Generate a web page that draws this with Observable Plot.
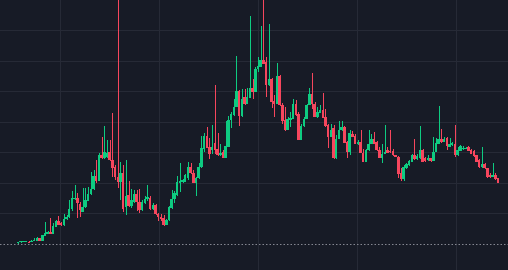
<!DOCTYPE html>
<html><head><meta charset="utf-8">
<script src="https://cdn.jsdelivr.net/npm/d3@7"></script>
<script src="https://cdn.jsdelivr.net/npm/@observablehq/plot@0.6"></script>
<style>html,body{margin:0;padding:0;background:#171b26;overflow:hidden}</style>
</head><body><div id="chart"></div>
<script>
const open=[0.46,0.56,0.62,0.65,0.78,0.78,1.14,1.14,1.80,1.05,
2.78,3.43,4.08,3.43,5.72,7.52,7.03,6.21,8.07,8.82,
11.44,14.87,15.13,13.24,10.62,12.09,14.22,16.34,17.88,22.22,
20.69,29.08,28.01,28.43,29.97,27.45,25.07,21.9,20.36,23.2,
12.09,16.01,12.42,13.89,16.34,13.73,11.11,13.56,14.71,15.2,
11.44,12.75,9.8,8.92,8.5,6.37,7.84,11.76,14.71,16.01,
19.93,20.16,20.43,21.57,25.26,23.2,20.03,21.47,25.16,31.05,
35.29,31.7,30.72,33.1,31.05,28.99,30.07,28.2,31.8,40.52,
42.16,44.87,50.0,41.83,48.04,45.98,47.94,51.21,49.77,57.19,
57.94,60.36,59.48,51.96,53.92,46.73,45.85,54.9,45.59,40.52,
37.48,40.52,41.08,45.75,42.48,34.22,38.56,41.08,45.65,49.25,
45.92,41.6,42.91,43.79,41.6,38.89,35.07,37.91,28.1,34.54,
37.26,38.24,33.33,30.16,36.18,35.46,32.91,33.43,29.84,26.9,
30.72,32.91,34.54,33.33,30.72,28.2,29.64,30.72,30.49,30.39,
29.08,28.53,23.2,21.14,24.74,25.82,26.9,29.08,27.78,28.01,
30.95,28.01,27.45,28.01,27.22,30.16,32.91,34.54,33.43,34.64,
31.8,32.35,32.91,29.08,30.49,31.14,31.14,31.8,30.72,30.39,
28.99,27.45,25.07,26.14,24.74,22.55,21.99,22.55,21.47];
const high=[0.65,0.72,0.78,0.88,0.92,1.31,1.96,2.45,1.96,3.10,
7.19,4.25,8.59,6.96,7.84,9.15,7.35,9.80,9.48,14.38,
17.32,19.28,16.57,13.73,18.2,18.3,18.73,23.53,24.18,27.45,
29.9,35.07,38.56,34.22,34.22,42.97,25.82,81.4,26.9,25.82,
27.45,20.59,17.88,17.65,17.65,17.97,14.54,15.69,19.28,15.69,
13.4,13.07,10.13,9.8,9.48,8.17,12.42,17.81,17.32,22.22,
26.37,21.24,22.88,26.7,26.37,24.18,21.9,26.37,35.39,36.5,
38.33,34.74,38.89,51.96,36.5,32.68,30.72,40.2,41.93,43.14,
47.61,61.44,50.56,50.88,50.88,50.98,74.84,53.92,57.94,61.11,
71.24,81.7,61.11,71.9,54.25,48.69,59.25,55.23,46.08,44.87,
41.5,43.24,47.61,47.06,43.24,39.44,41.5,45.98,51.08,55.98,
46.5,44.87,45.42,49.58,44.12,39.22,39.22,38.89,35.62,40.2,
40.2,38.56,33.66,37.26,36.93,35.95,34.22,37.26,31.27,31.27,
37.26,35.95,36.7,33.66,31.8,32.68,38.89,31.8,37.26,31.27,
29.25,28.76,24.74,25.82,26.47,27.45,29.64,34.54,29.41,38.56,
31.27,28.43,28.99,28.27,35.07,34.87,45.1,37.81,35.07,34.97,
34.87,33.33,38.89,31.8,32.35,32.03,31.86,32.03,31.05,30.72,
29.08,27.78,31.8,26.47,24.84,23.3,26.57,23.1,21.57];
const low=[0,0.46,0.49,0.56,0.59,0.72,0.98,0.98,0.92,0.92,
2.61,3.27,3.27,3.27,5.56,6.21,6.05,6.05,7.84,8.66,
10.78,14.38,8.66,8.82,10.46,11.76,14.05,16.18,17.65,19.84,
20.59,27.78,27.78,28.1,27.29,21.99,20.92,18.2,14.38,10.56,
9.48,12.09,11.76,13.4,10.78,10.13,10.78,13.07,14.05,11.11,
11.11,9.48,7.52,7.52,6.05,6.21,7.52,11.44,13.5,15.69,
17.09,19.93,20.26,20.92,22.88,19.93,15.69,21.24,24.84,29.97,
31.37,27.78,29.41,29.64,28.76,28.76,28.1,28.1,31.7,37.91,
41.83,44.77,38.56,41.5,45.42,45.75,47.71,47.39,49.67,56.31,
57.84,58.82,48.14,51.63,44.67,41.6,45.75,45.1,39.44,36.93,
37.26,38.33,40.85,41.83,33.99,33.99,38.24,40.85,45.42,44.35,
41.5,41.34,42.81,41.18,38.24,31.6,34.97,27.68,27.78,34.31,
36.93,33.01,28.2,29.08,34.97,32.68,32.35,29.74,26.8,26.8,
30.56,32.68,32.68,30.39,28.1,26.57,29.41,29.74,29.9,28.92,
28.43,21.47,20.69,20.69,24.51,25.49,26.8,27.45,27.45,27.78,
26.8,26.8,27.12,26.96,27.12,30.07,32.68,33.17,33.33,30.95,
31.7,32.03,28.53,28.76,30.39,30.88,31.05,30.39,29.41,28.43,
26.8,24.84,24.84,24.51,21.57,21.57,21.9,20.92,19.93];
const close=[0.56,0.62,0.65,0.78,0.72,1.14,1.47,2.12,1.05,2.88,
3.59,3.92,3.37,5.88,7.68,6.37,6.21,8.17,8.92,11.6,
15.03,15.2,13.3,11.11,12.19,14.38,16.34,17.88,22.22,20.69,
29.08,28.1,30.07,29.9,27.45,24.74,21.8,20.36,23.3,11.6,
15.69,12.42,14.38,16.34,13.73,11.11,13.73,14.87,15.36,11.44,
12.91,9.8,8.82,8.07,6.37,7.84,12.09,14.87,16.67,20.26,
20.75,20.82,22.55,25.26,23.1,20.03,21.57,25.16,31.54,35.29,
31.47,29.41,31.7,30.72,29.08,29.84,28.2,32.03,40.52,42.65,
44.87,50.0,41.83,47.61,45.75,48.14,51.21,49.77,57.42,58.17,
60.36,59.05,51.96,53.92,46.5,45.85,54.9,45.42,40.29,37.48,
41.08,41.41,45.75,42.16,34.22,38.56,41.08,45.65,49.25,45.75,
41.6,43.24,43.79,41.41,38.56,35.07,37.26,28.1,34.54,37.26,
38.24,33.1,30.16,36.27,35.07,32.91,33.43,29.84,26.9,30.72,
32.91,34.54,32.91,30.72,28.2,29.64,30.16,29.84,30.16,29.08,
28.53,22.88,21.14,25.07,26.14,27.22,29.08,27.68,28.76,30.95,
26.9,27.12,28.01,27.22,30.16,33.1,34.54,33.43,34.48,32.03,
32.91,33.01,29.08,30.95,32.03,31.6,31.54,30.49,29.64,28.76,
26.9,25.07,26.14,24.74,21.8,21.8,22.55,21.14,20.03];
const yGridTicks=[10,20,30,40,50,60,70];
const xGridTicks=[15.7,52.4,89.1,125.8,162.5];
const baseline=[0];

const UP="#0ecb81", DOWN="#f6465d";
const data=open.map((o,i)=>({i,open:o,high:high[i],low:low[i],close:close[i],up:close[i]>=o}));
const minBody=0.33;
const chart=Plot.plot({
  width:508,height:270,margin:0,
  style:{background:"#171b26"},
  color:{type:"identity"},
  x:{domain:[-6.67,181.68],axis:null},
  y:{domain:[-8.52,79.92],axis:null},
  marks:[
    Plot.gridX(xGridTicks,{stroke:"#262a36",strokeOpacity:1,strokeWidth:1,shapeRendering:"crispEdges"}),
    Plot.gridY(yGridTicks,{stroke:"#262a36",strokeOpacity:1,strokeWidth:1,shapeRendering:"crispEdges"}),
    Plot.ruleY(baseline,{stroke:"#868993",strokeDasharray:"1.5,2",strokeWidth:1}),
    Plot.ruleX(data,{x:"i",y1:"low",y2:"high",stroke:d=>d.up?UP:DOWN,strokeWidth:1,clip:true,shapeRendering:"crispEdges"}),
    Plot.rect(data,{x1:d=>d.i-0.46,x2:d=>d.i+0.46,y1:"open",
      y2:d=>Math.abs(d.close-d.open)<minBody?d.open+(d.up?minBody:-minBody):d.close,
      fill:d=>d.up?UP:DOWN,shapeRendering:"crispEdges"})
  ]
});
document.getElementById("chart").appendChild(chart);
</script></body></html>
